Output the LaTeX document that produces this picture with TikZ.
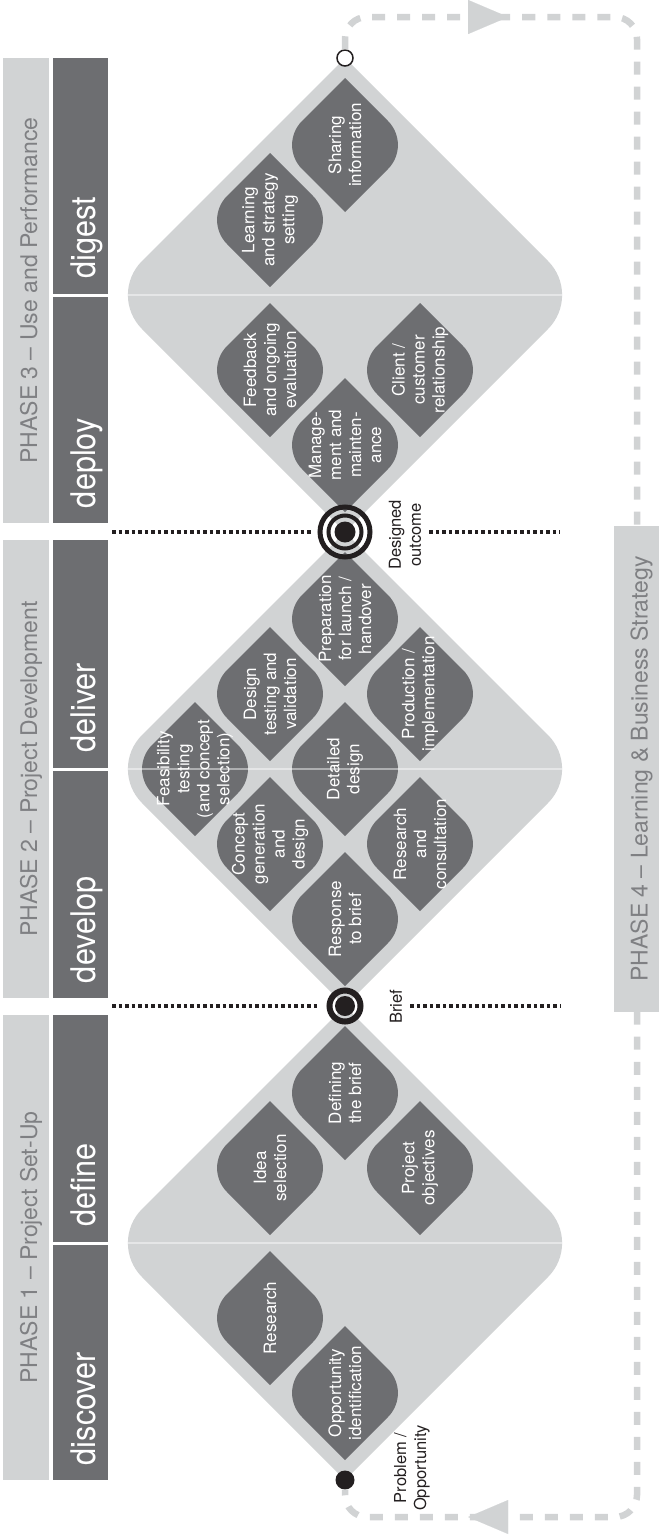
\documentclass[tikz,border=0pt]{standalone}
\usepackage{fontspec}
\setmainfont{TeX Gyre Heros}
\newfontfamily\stagefont[FakeStretch=0.9]{TeX Gyre Heros}
\usepackage{tikz}
\usetikzlibrary{arrows.meta,decorations.markings}
\definecolor{PhaseLight}{HTML}{D1D3D4}
\definecolor{PhaseText}{HTML}{7F8083}
\definecolor{StageDark}{HTML}{6D6E71}
\definecolor{LeafDark}{HTML}{6D6E71}
\definecolor{DiaLight}{HTML}{D1D3D4}
\definecolor{LoopGray}{HTML}{D1D3D4}
\definecolor{Ink}{HTML}{231F20}
\newcommand{\phasesize}{\fontsize{23}{27}\selectfont}
\newcommand{\stagesize}{\fontsize{34}{38}\selectfont}
\newcommand{\leafsize}{\fontsize{17}{20}\selectfont}
\newcommand{\labelsize}{\fontsize{16.5}{20}\selectfont}
% diamond with rounded side corners: style, cx, cy, half diagonal, radius
\newcommand{\lozfill}[5]{%
  \fill[#1] ({#2},{#3-#4}) -- ({#2+#4-0.7071*#5},{#3-0.7071*#5})
    arc[start angle=-45,end angle=45,radius=#5] -- ({#2},{#3+#4})
    -- ({#2-#4+0.7071*#5},{#3+0.7071*#5})
    arc[start angle=135,end angle=225,radius=#5] -- cycle;}
\newcommand{\leafbox}[4]{%
  \lozfill{LeafDark}{#2}{#3}{67}{34}
  \node[leaftext] (#1) at (#2,#3) {#4};}
\tikzset{
  phasebar/.style={rectangle,fill=PhaseLight,text=PhaseText,rotate=90,inner sep=0pt,minimum height=46pt,text height=22pt,text depth=0pt,font=\phasesize},
  stagebar/.style={rectangle,fill=StageDark,text=white,rotate=90,inner xsep=15pt,inner ysep=0pt,minimum height=55pt,text height=29pt,text depth=0pt,align=left,font=\stagefont\stagesize},
  leaftext/.style={text=white,align=center,rotate=90,inner sep=0pt,font=\leafsize},
  flowlabel/.style={text=Ink,align=center,rotate=90,inner sep=0pt,font=\labelsize},
  ring/.style={circle,draw=Ink,inner sep=0pt},
  bullseye/.style={circle,fill=Ink,inner sep=0pt},
  dotline/.style={draw=Ink,line width=3.5pt,dash pattern=on 3.5pt off 3pt},
  splitline/.style={draw=white,opacity=0.45,line width=1.5pt},
  loopline/.style={draw=LoopGray,line width=6.5pt,dash pattern=on 13pt off 12pt,rounded corners=22pt},
  flowtips/.style={postaction={decorate},decoration={markings,
    mark=at position 186pt with {\arrow{Triangle[length=40pt,width=34pt,line width=0.1pt]}},
    mark=at position -141pt with {\arrow{Triangle[length=40pt,width=34pt,line width=0.1pt]}}}},
}
\begin{document}
\begin{tikzpicture}[x=1pt,y=-1pt]
  \useasboundingbox (0,0) rectangle (659,1539);

  % the three diamonds
  \lozfill{DiaLight}{345}{295}{237}{48}
  \lozfill{DiaLight}{345}{769}{237}{48}
  \lozfill{DiaLight}{345}{1243}{237}{48}

  % phase 1
  \leafbox{opportunity}{345}{1393}{Opportunity\\identification}
  \leafbox{research}{270}{1318}{Research}
  \leafbox{ideasel}{270}{1168}{Idea\\selection}
  \leafbox{objectives}{420}{1168}{Project\\objectives}
  \leafbox{definebrief}{345}{1093}{Defining\\the brief}
  % phase 2
  \leafbox{response}{345}{919}{Response\\to brief}
  \leafbox{concept}{270}{844}{Concept\\generation\\and\\design}
  \leafbox{consult}{420}{844}{Research\\and\\consultation}
  \leafbox{feasibility}{195}{769}{Feasibility\\testing\\(and concept\\selection)}
  \leafbox{detailed}{345}{769}{Detailed\\design}
  \leafbox{testing}{270}{694}{Design\\testing and\\validation}
  \leafbox{production}{420}{694}{Production /\\implementation}
  \leafbox{preparation}{345}{619}{Preparation\\for launch /\\handover}
  % phase 3
  \leafbox{maintenance}{345}{445}{Manage-\\ment and\\mainten-\\ance}
  \leafbox{feedback}{270}{370}{Feedback\\and ongoing\\evaluation}
  \leafbox{client}{420}{370}{Client /\\customer\\relationship}
  \leafbox{learning}{270}{220}{Learning\\and strategy\\setting}
  \leafbox{sharing}{345}{145}{Sharing\\information}

  \draw[splitline] (128,295) -- (562,295);
  \draw[splitline] (128,769) -- (562,769);
  \draw[splitline] (128,1243) -- (562,1243);

  % left column
  \node[phasebar, minimum width=465pt] (ph3) at (26,290.5) {PHASE 3 – Use and Performance};
  \node[phasebar, minimum width=458pt] (ph2) at (26,769) {PHASE 2 – Project Development};
  \node[phasebar, minimum width=465pt] (ph1) at (26,1247.5) {PHASE 1 – Project Set-Up};
  \node[stagebar, text width=205.5pt] (digest) at (80.5,175.75) {digest};
  \node[stagebar, text width=196.5pt] (deploy) at (80.5,409.75) {deploy};
  \node[stagebar, text width=197.5pt] (deliver) at (80.5,653.75) {deliver};
  \node[stagebar, text width=197.5pt] (develop) at (80.5,884.25) {develop};
  \node[stagebar, text width=196.5pt] (define) at (80.5,1128.25) {define};
  \node[stagebar, text width=205.5pt] (discover) at (80.5,1362.25) {discover};

  % milestones
  \node[ring, line width=1.5pt, fill=white, minimum size=16pt] (closing) at (345,58) {};
  \node[ring, line width=5pt, minimum size=50pt] (outcome) at (345,532) {};
  \node[ring, line width=4pt, minimum size=33pt] (outcomering) at (outcome) {};
  \node[bullseye, minimum size=21pt] (outcomedot) at (outcome) {};
  \node[ring, line width=6pt, minimum size=31pt] (brief) at (345,1006) {};
  \node[bullseye, minimum size=20pt] (briefdot) at (brief) {};
  \node[bullseye, minimum size=19pt] (problem) at (345,1480) {};

  \node[flowlabel] (outcomelbl) at (405,535) {Designed\\outcome};
  \node[flowlabel] (brieflbl) at (396,1007) {Brief};
  \node[flowlabel] (problemlbl) at (412,1468) {Problem /\\Opportunity};

  \coordinate (outcomestart) at (112,532);
  \coordinate (outcomeend) at (560,532);
  \coordinate (briefstart) at (112,1006);
  \coordinate (briefend) at (560,1006);
  \draw[dotline, shorten >=6pt] (outcomestart) -- (outcome.west);
  \draw[dotline, shorten <=8pt] (outcomelbl.south |- outcome) -- (outcomeend);
  \draw[dotline, shorten >=7pt] (briefstart) -- (brief.west);
  \draw[dotline, shorten <=8pt] (brieflbl.south |- brief) -- (briefend);

  % phase 4 loop
  \coordinate (loopne) at (637,17);
  \coordinate (loopse) at (637,1517);
  \draw[loopline, flowtips] (closing.north) |- (loopne) -- (loopse) -| (problem.south);
  \node[phasebar, minimum width=486pt, minimum height=45pt] (ph4) at (636.5,769) {PHASE 4 – Learning \& Business Strategy};
\end{tikzpicture}
\end{document}
